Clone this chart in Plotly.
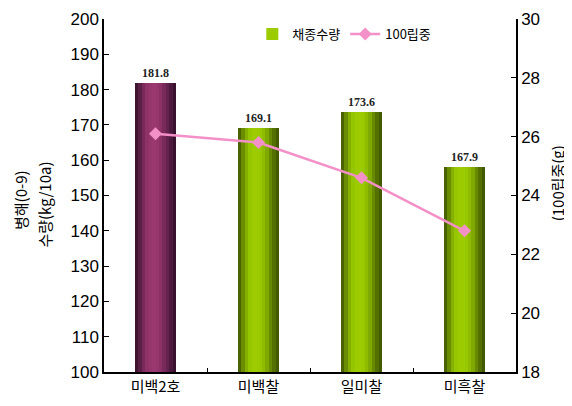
import plotly.graph_objects as go

categories = ["미백2호", "미백찰", "일미찰", "미흑찰"]
yield_values = [181.8, 169.0, 173.7, 158.0]
yield_labels = ["181.8", "169.1", "173.6", "167.9"]
weight_values = [26.1, 25.8, 24.6, 22.8]

left_ticks = [100, 110, 120, 130, 140, 150, 160, 170, 180, 190, 200]
right_ticks = [18, 20, 22, 24, 26, 28, 30]

# gradient profiles across bar width (style only)
purple_profile = ["#3e1430", "#5a1f45", "#7a2a5a", "#8e3268", "#97366d", "#9a386f",
                  "#97366d", "#8c3166", "#7a2a5a", "#632250", "#4c1a3d", "#3a1230"]
green_profile = ["#4a6200", "#6a8c00", "#86b000", "#96c600", "#9ccc00", "#9ccc00",
                 "#98c800", "#8fbc00", "#7fa800", "#688a00", "#547000", "#425a00"]

N = len(green_profile)
W = 0.4
fig = go.Figure()

# invisible full bar carrying the value labels
fig.add_trace(go.Bar(
    x=categories, y=yield_values, width=W, offset=-W / 2,
    marker=dict(color="rgba(0,0,0,0)", line=dict(width=0)),
    text=["<b>" + t + "</b>" for t in yield_labels], textposition="outside",
    textfont=dict(family="Liberation Serif", size=12, color="#222222"),
    showlegend=False, hoverinfo="skip", cliponaxis=False,
))

for i in range(N):
    off = -W / 2 + i * W / N
    fig.add_trace(go.Bar(
        x=categories[1:], y=yield_values[1:], width=W / N + 0.002, offset=off,
        marker=dict(color=green_profile[i], line=dict(width=0)),
        name="채종수량", showlegend=(i == 4), legendgroup="yield",
    ))
    fig.add_trace(go.Bar(
        x=categories[:1], y=yield_values[:1], width=W / N + 0.002, offset=off,
        marker=dict(color=purple_profile[i], line=dict(width=0)),
        name="채종수량", showlegend=False, legendgroup="yield",
    ))

fig.add_trace(go.Scatter(
    x=categories, y=weight_values, yaxis="y2", mode="lines+markers",
    name="100립중",
    line=dict(color="#f490c8", width=2.5),
    marker=dict(symbol="diamond", size=10, color="#f490c8"),
))

font_fam = "Noto Sans CJK KR"
title_font = dict(size=15, family=font_fam, color="black")
fig.update_layout(
    width=564, height=398,
    margin=dict(l=96, r=56, t=11, b=34, autoexpand=False),
    paper_bgcolor="white", plot_bgcolor="white",
    barmode="overlay", bargap=0,
    font=dict(family=font_fam, color="black"),
    legend=dict(orientation="h", x=0.36, y=1.0, xanchor="left", yanchor="top",
                bgcolor="rgba(0,0,0,0)", font=dict(size=13, family=font_fam),
                itemwidth=30, traceorder="normal"),
    xaxis=dict(
        showline=True, linecolor="black", linewidth=1.5,
        ticks="inside", ticklen=4, tickcolor="black", tickson="boundaries",
        tickfont=dict(size=15, family=font_fam),
        showgrid=False, mirror=False, automargin=False,
    ),
    yaxis=dict(
        range=[100, 200], tickvals=left_ticks,
        showline=True, linecolor="black", linewidth=1.5,
        ticks="inside", ticklen=5, tickcolor="black",
        tickfont=dict(size=17, family="Liberation Sans"),
        showgrid=False, zeroline=False, automargin=False,
    ),
    yaxis2=dict(
        range=[18, 30], tickvals=right_ticks, overlaying="y", side="right",
        showline=True, linecolor="black", linewidth=1.5,
        ticks="inside", ticklen=5, tickcolor="black",
        tickfont=dict(size=17, family="Liberation Sans"),
        showgrid=False, zeroline=False, automargin=False,
    ),
    annotations=[
        dict(text="병해(0-9)", xref="paper", yref="paper", x=-0.204, y=0.487,
             textangle=-90, showarrow=False, font=title_font, xanchor="center", yanchor="middle"),
        dict(text="수량(kg/10a)", xref="paper", yref="paper", x=-0.145, y=0.475,
             textangle=-90, showarrow=False, font=title_font, xanchor="center", yanchor="middle"),
        dict(text="(100립중(g)", xref="paper", yref="paper", x=1.100, y=0.535,
             textangle=-90, showarrow=False, font=title_font, xanchor="center", yanchor="middle"),
    ],
)

fig.write_html("out.html")
